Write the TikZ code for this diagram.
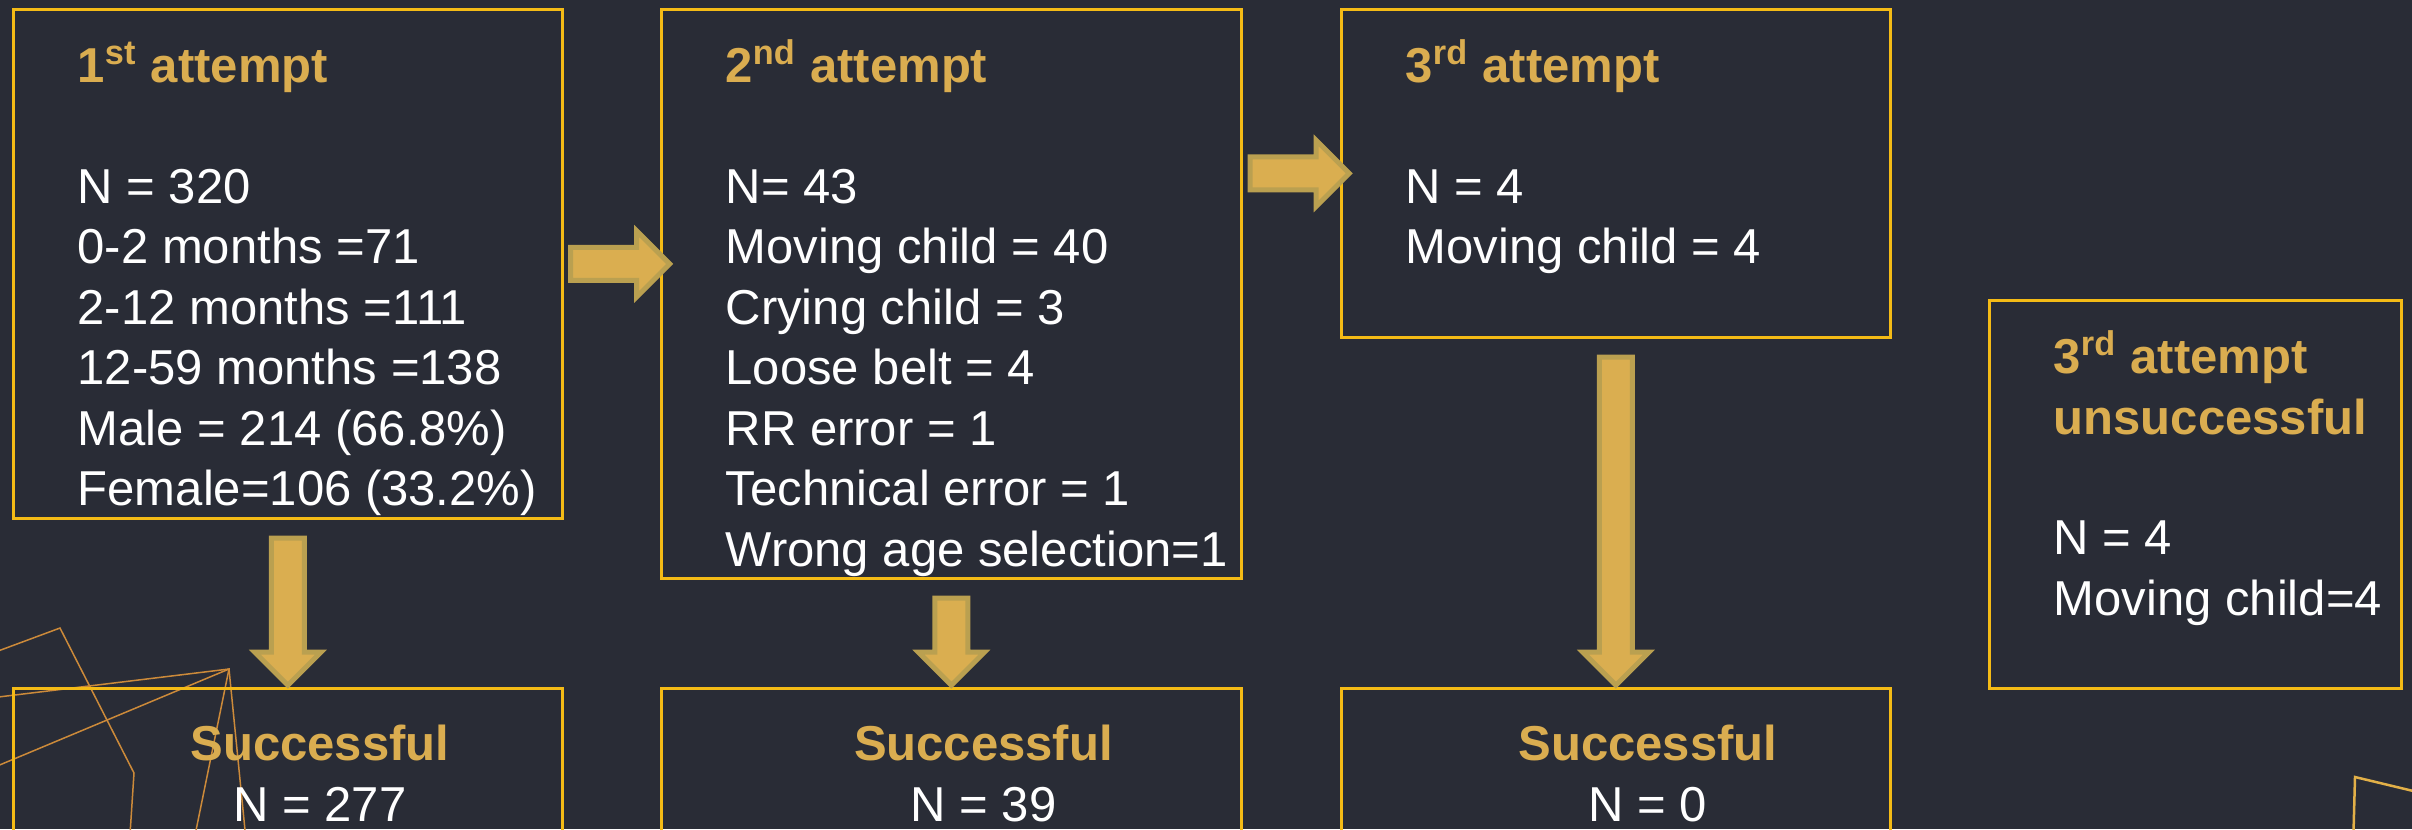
\documentclass[tikz,border=0pt]{standalone}
\usepackage{fontspec}
\setmainfont{Liberation Sans}
\usetikzlibrary{shapes.arrows}

\definecolor{bgdark}{RGB}{41,44,54}
\definecolor{boxline}{RGB}{244,187,22}
\definecolor{titlegold}{RGB}{218,173,80}
\definecolor{arrowfill}{RGB}{218,174,80}
\definecolor{arrowedge}{RGB}{186,160,80}
\definecolor{decoline}{RGB}{204,138,58}
\definecolor{decogold}{RGB}{226,176,72}

\newcommand{\hd}[1]{\textcolor{titlegold}{\bfseries #1}}
\newcommand{\topstrut}{\rule{0pt}{1em}}

\tikzset{
  box/.style={draw=boxline, line width=.025cm, anchor=north west, inner sep=0},
  txt/.style={anchor=north west, align=left, inner sep=0, text=white,
    font=\fontsize{13.94}{17.2}\selectfont},
  garrow/.style={single arrow, fill=arrowfill, draw=arrowedge, line width=.05cm,
    inner xsep=0, inner ysep=.14cm, minimum width=.61cm,
    single arrow head extend=.165cm}
}

\begin{document}
\begin{tikzpicture}[x=0.01cm, y=-0.01cm]

  \useasboundingbox (0,0) rectangle (2412,829);
  \fill[bgdark] (0,0) rectangle (2412,829);
  \clip (0,0) rectangle (2412,829);

  % corner lines
  \begin{scope}[decoline, line width=.015cm]
    \draw (-10,654) -- (60,628) -- (134,773) -- (129,850);
    \draw (-10,698) -- (229,669) -- (192,850);
    \draw (-10,769) -- (229,669) -- (247,850);
  \end{scope}
  \draw[decogold, line width=.025cm] (2430,795) -- (2355,777) -- (2353,850);

  \begin{scope}[every node/.style={box}]
    \node[minimum width=5.49cm, minimum height=5.09cm] (b1) at (12,8) {};
    \node[minimum width=5.80cm, minimum height=5.69cm] (b2) at (660,8) {};
    \node[minimum width=5.49cm, minimum height=3.28cm] (b3) at (1340,8) {};
    \node[minimum width=4.12cm, minimum height=3.88cm] (b4) at (1988,299) {};
    \node[minimum width=5.49cm, minimum height=2.00cm] (s1) at (12,687) {};
    \node[minimum width=5.80cm, minimum height=2.00cm] (s2) at (660,687) {};
    \node[minimum width=5.49cm, minimum height=2.00cm] (s3) at (1340,687) {};
  \end{scope}

  % arrows between the boxes
  \path (b1.east) -- (b1.east -| b2.west)
    node[midway, garrow, minimum height=.99cm] (a12) {};
  \path (b2.east |- b3.west) -- (b3.west)
    node[midway, garrow, minimum height=.99cm] (a23) {};
  \path (b1.south) -- (s1.north)
    node[midway, garrow, rotate=-90, minimum height=1.47cm] (a1) {};
  \path (b2.south) -- (s2.north)
    node[midway, garrow, rotate=-90, minimum height=.87cm] (a2) {};
  \path (b3.south) -- (s3.north)
    node[midway, garrow, rotate=-90, minimum height=3.28cm] (a3) {};

  \begin{scope}[every node/.style={txt}]
    \node (t1) at ([shift={(65,25)}]b1.north west) {\topstrut\hd{1\textsuperscript{st} attempt}\\[.6cm]
      N = 320\\ 0-2 months =71\\ 2-12 months =111\\ 12-59 months =138\\
      Male = 214 (66.8\%)\\ Female=106 (33.2\%)};
    \node (t2) at ([shift={(65,25)}]b2.north west) {\topstrut\hd{2\textsuperscript{nd} attempt}\\[.6cm]
      N= 43\\ Moving child = 40\\ Crying child = 3\\ Loose belt = 4\\
      RR error = 1\\ Technical error = 1\\ Wrong age selection=1};
    \node (t3) at ([shift={(65,25)}]b3.north west) {\topstrut\hd{3\textsuperscript{rd} attempt}\\[.6cm]
      N = 4\\ Moving child = 4};
    \node (t4) at ([shift={(65,25)}]b4.north west) {\topstrut\hd{3\textsuperscript{rd} attempt}\\
      \hd{unsuccessful}\\[.6cm] N = 4\\ Moving child=4};
  \end{scope}

  \begin{scope}[every node/.style={txt, anchor=north, align=center}]
    \node (u1) at ([shift={(32,24)}]s1.north) {\topstrut\hd{Successful}\\ N = 277};
    \node (u2) at ([shift={(32,24)}]s2.north) {\topstrut\hd{Successful}\\ N = 39};
    \node (u3) at ([shift={(32,24)}]s3.north) {\topstrut\hd{Successful}\\ N = 0};
  \end{scope}

\end{tikzpicture}
\end{document}
